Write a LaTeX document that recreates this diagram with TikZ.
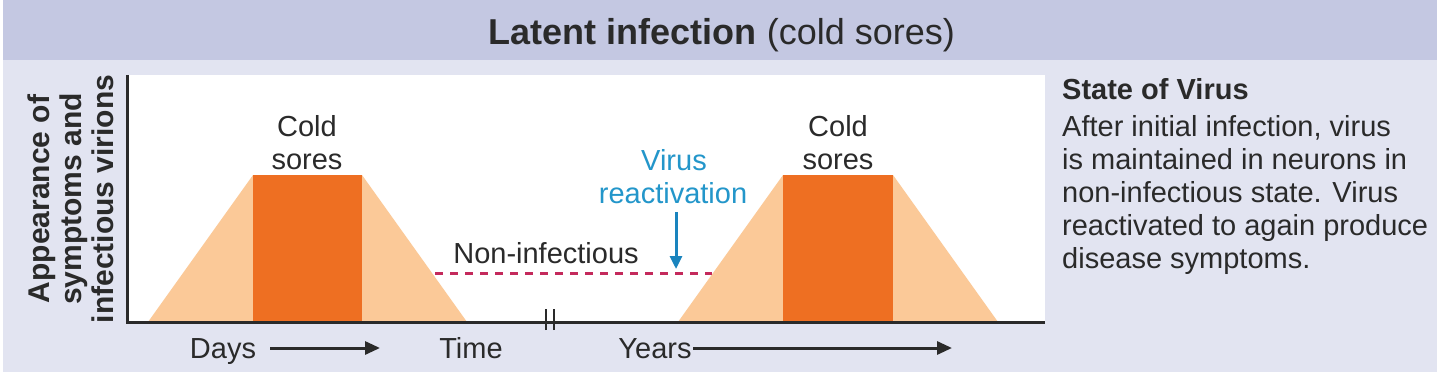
\documentclass[tikz,border=0pt]{standalone}
\usepackage{fontspec}
\setmainfont{Liberation Sans}
\usetikzlibrary{arrows.meta}
\definecolor{panelbg}{HTML}{E2E4F1}
\definecolor{titlebg}{HTML}{C4C8E2}
\definecolor{peach}{HTML}{FBC998}
\definecolor{sore}{HTML}{EE6F22}
\definecolor{reblue}{HTML}{2396CA}
\definecolor{arrblue}{HTML}{1A84BE}
\definecolor{dashred}{HTML}{C42A5C}
\definecolor{ink}{HTML}{2A2A2A}
\tikzset{
  txt/.style={inner sep=0pt, text=ink, font=\fontsize{29}{33}\selectfont},
  btxt/.style={txt, font=\fontsize{29}{33}\selectfont\bfseries},
  ylab/.style={inner sep=0pt, text=ink, rotate=90, anchor=base, font=\fontsize{30}{32}\selectfont\bfseries},
  axisline/.style={line width=3pt, draw=ink},
  timearrow/.style={line width=3pt, draw=ink, -{Triangle[length=15pt,width=13pt]}},
  blue arrow/.style={line width=3pt, draw=arrblue, -{Triangle[length=13pt,width=12pt]}},
  dashline/.style={line width=3pt, draw=dashred, dash pattern=on 8pt off 7pt},
}
\begin{document}
\begin{tikzpicture}[x=1pt,y=-1pt]
\useasboundingbox (0,0) rectangle (1440,385);
\fill[white] (0,0) rectangle (1440,385);
\fill[panelbg] (3,0) rectangle (1437,372);
\fill[titlebg] (3,0) rectangle (1437,60);
\fill[white] (127,75) rectangle (1045,322);
% title
\node[inner sep=0pt, text=ink, anchor=base] (title) at (722,45)
  {\fontsize{36}{40}\selectfont\textbf{Latent infection} (cold sores)};
% first episode
\fill[peach] (148,322) -- (253,175) -- (362,175) -- (467,322) -- cycle;
\fill[sore] (253,175) rectangle (362,322);
% second episode
\fill[peach] (678,322) -- (783,175) -- (893,175) -- (998,322) -- cycle;
\fill[sore] (783,175) rectangle (893,322);
% labels over episodes
\node[txt, anchor=base] (cold1) at (307,136) {Cold};
\node[txt, anchor=base] (sores1) at (307,169) {sores};
\node[txt, anchor=base] (cold2) at (838,136) {Cold};
\node[txt, anchor=base] (sores2) at (838,169) {sores};
% non-infectious
\coordinate (dashA) at (435,273);
\coordinate (dashB) at (712,273);
\draw[dashline] (dashA) -- (dashB);
\node[txt, anchor=base] (noninf) at (546,263) {Non-infectious};
% reactivation
\node[txt, anchor=base, text=reblue] (virus) at (674,170) {Virus};
\node[txt, anchor=base, text=reblue] (react) at (673,203) {reactivation};
\coordinate (reactTip) at (676,269);
\draw[blue arrow] (676,212) -- (reactTip);
% axes
\draw[axisline] (127,75) -- (127,322) -- (1045,322);
\coordinate (breakA) at (546,322);
\coordinate (breakB) at (554,322);
\draw[line width=2pt, draw=ink] ([yshift=-8pt]breakA) -- ([yshift=13pt]breakA);
\draw[line width=2pt, draw=ink] ([yshift=-8pt]breakB) -- ([yshift=13pt]breakB);
% y label
\node[ylab] (ylab1) at (49,199) {Appearance of};
\node[ylab] (ylab2) at (81,199) {symptoms and};
\node[ylab] (ylab3) at (113,199) {infectious virions};
% bottom labels
\node[txt, anchor=base] (days) at (223,358) {Days};
\node[txt, anchor=base] (time) at (471,358) {Time};
\node[txt, anchor=base] (years) at (655,358) {Years};
\coordinate (daysA) at (270,348);
\coordinate (daysB) at (380,348);
\coordinate (yearsA) at (693,348);
\coordinate (yearsB) at (952,348);
\draw[timearrow] (daysA) -- (daysB);
\draw[timearrow] (yearsA) -- (yearsB);
% state of virus
\node[btxt, anchor=base west] (sov) at (1062,100) {State of Virus};
\node[txt, anchor=base west] (l1) at (1062,136) {After initial infection, virus};
\node[txt, anchor=base west] (l2) at (1062,169) {is maintained in neurons in};
\node[txt, anchor=base west] (l3) at (1062,202) {non-infectious state. Virus};
\node[txt, anchor=base west] (l4) at (1062,235) {reactivated to again produce};
\node[txt, anchor=base west] (l5) at (1062,268) {disease symptoms.};
\end{tikzpicture}
\end{document}
